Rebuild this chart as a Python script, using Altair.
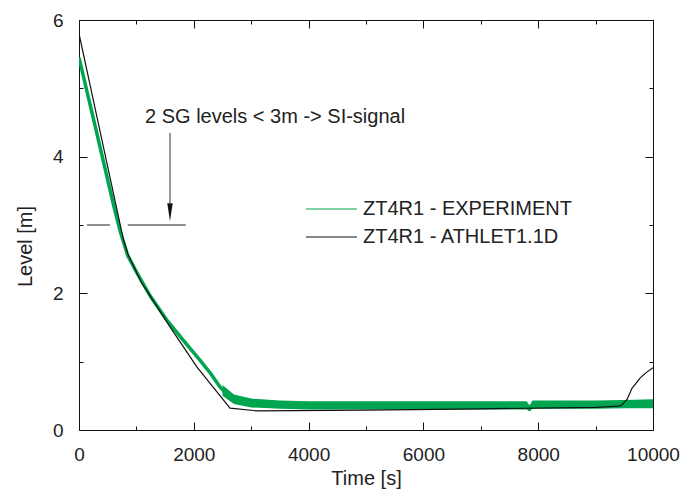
import altair as alt
import pandas as pd

# ---------------- data ----------------
exp_t = [0, 300, 600, 720, 850, 1010, 1250, 1530, 1800, 2110, 2300, 2456, 2600, 2690,
         2850, 3030, 3400, 3850, 4080, 4120, 5000, 6000, 7000, 7800, 7850, 7900, 8000,
         9000, 9500, 10000]
exp_lvl = [5.45, 4.38, 3.30, 2.90, 2.55, 2.30, 1.95, 1.61, 1.33, 1.02, 0.82, 0.63, 0.50, 0.44,
           0.41, 0.39, 0.37, 0.36, 0.34, 0.36, 0.36, 0.36, 0.36, 0.36, 0.32, 0.37, 0.37,
           0.37, 0.38, 0.38]

band_t = [2500, 2700, 3000, 3500, 4000, 5000, 6000, 7000, 7800, 7850, 7900, 8000, 9000, 9500, 10000]
band_lo = [0.50, 0.38, 0.33, 0.31, 0.30, 0.30, 0.30, 0.30, 0.30, 0.27, 0.31, 0.31, 0.31, 0.32, 0.32]
band_hi = [0.66, 0.52, 0.46, 0.43, 0.42, 0.42, 0.42, 0.42, 0.42, 0.36, 0.43, 0.43, 0.43, 0.44, 0.45]

sim_t = [0, 770, 850, 1080, 1585, 2056, 2631, 3100, 5000, 7000, 9000, 9390, 9450, 9550,
         9634, 9700, 9774, 9880, 10000]
sim_lvl = [5.80, 2.80, 2.58, 2.17, 1.51, 0.92, 0.32, 0.28, 0.29, 0.31, 0.33, 0.35, 0.36, 0.45,
           0.61, 0.68, 0.76, 0.84, 0.91]

series_names = ["ZT4R1 - EXPERIMENT", "ZT4R1 - ATHLET1.1D"]
series_colors = ["#00a550", "#111111"]

x_major = [0, 2000, 4000, 6000, 8000, 10000]
x_minor = [1000, 3000, 5000, 7000, 9000]
y_major = [0, 2, 4, 6]
y_minor = [1, 3, 5]

annot_text = ["2 SG levels < 3m -> SI-signal"]
annot_text_t = [1150]
annot_text_lvl = [4.58]
arrow_t = [1585]
arrow_top = [4.35]
arrow_base = [3.32]
arrow_head = [3.185]
level_line_t1 = [140, 850]
level_line_t2 = [540, 1860]
level_line_lvl = [3.0, 3.0]

# ---------------- layout constants ----------------
W, H = 574, 410
FONT = "Liberation Sans"

xs = alt.Scale(domain=[0, 10000], nice=False, zero=False)
ys = alt.Scale(domain=[0, 6], nice=False, zero=False)

lines_df = pd.concat([
    pd.DataFrame({"t": exp_t, "L": exp_lvl, "series": series_names[0]}),
    pd.DataFrame({"t": sim_t, "L": sim_lvl, "series": series_names[1]}),
])
band_df = pd.DataFrame({"t": band_t, "lo": band_lo, "hi": band_hi})

color = alt.Color(
    "series:N",
    scale=alt.Scale(domain=series_names, range=series_colors),
    sort=series_names,
    legend=alt.Legend(
        title=None, orient="none", legendX=226, legendY=179,
        symbolType="stroke", symbolSize=2601, symbolStrokeWidth=1.2,
        clipHeight=20, rowPadding=8, padding=0, labelOffset=5,
        labelFontSize=20, labelFont=FONT, labelColor="#222222", labelLimit=400,
    ),
)

base = alt.Chart(lines_df)
green_thick = base.transform_filter(alt.datum.series == series_names[0]).mark_line(
    strokeWidth=3.5, clip=True, color=series_colors[0]
).encode(
    x=alt.X("t:Q", scale=xs, axis=None),
    y=alt.Y("L:Q", scale=ys, axis=None),
    order="t:Q",
)
green_thin = base.transform_filter(alt.datum.series == series_names[0]).mark_line(
    strokeWidth=1.2, clip=True
).encode(
    x=alt.X("t:Q", scale=xs, axis=None),
    y=alt.Y("L:Q", scale=ys, axis=None),
    color=color,
    order="t:Q",
)
band = alt.Chart(band_df).mark_area(color=series_colors[0], opacity=1).encode(
    x=alt.X("t:Q", scale=xs, axis=None),
    y=alt.Y("lo:Q", scale=ys, axis=None),
    y2="hi:Q",
)
black = base.transform_filter(alt.datum.series == series_names[1]).mark_line(
    strokeWidth=1.2, clip=True
).encode(
    x=alt.X("t:Q", scale=xs, axis=None),
    y=alt.Y("L:Q", scale=ys, axis=None),
    color=color,
    order="t:Q",
)

# annotation
txt = alt.Chart(pd.DataFrame({"t": annot_text_t, "L": annot_text_lvl, "s": annot_text})).mark_text(
    align="left", baseline="middle", fontSize=20, font=FONT, color="#222222"
).encode(x=alt.X("t:Q", scale=xs, axis=None), y=alt.Y("L:Q", scale=ys, axis=None), text="s:N")

arrow = alt.Chart(pd.DataFrame({"t": arrow_t, "a": arrow_top, "b": arrow_base})).mark_rule(
    color="#555555", strokeWidth=1.2
).encode(x=alt.X("t:Q", scale=xs, axis=None), y=alt.Y("a:Q", scale=ys, axis=None), y2="b:Q")

head = alt.Chart(pd.DataFrame({"t": arrow_t, "L": arrow_head})).mark_point(
    shape="M-0.3,-1L0.3,-1L0,1Z", filled=True, size=324, color="#111111", opacity=1
).encode(x=alt.X("t:Q", scale=xs, axis=None), y=alt.Y("L:Q", scale=ys, axis=None))

hline = alt.Chart(pd.DataFrame({"a": level_line_t1, "b": level_line_t2, "L": level_line_lvl})).mark_rule(
    color="#222222", strokeWidth=1
).encode(x=alt.X("a:Q", scale=xs, axis=None), x2="b:Q", y=alt.Y("L:Q", scale=ys, axis=None))

# ---------------- axes (box frame with inward ticks) ----------------
dummy = pd.DataFrame({"t": [0], "L": [0]})


def axis_layer(xaxis, yaxis):
    return alt.Chart(dummy).mark_point(opacity=0).encode(
        x=alt.X("t:Q", scale=xs, axis=xaxis),
        y=alt.Y("L:Q", scale=ys, axis=yaxis),
    )


common = dict(grid=False, domainColor="#111111", tickColor="#111111", tickWidth=1, domainWidth=1)

x_main = alt.Axis(orient="bottom", values=x_major, ticks=False, tickSize=0, domain=True,
                  labels=True, labelFontSize=19, labelFont=FONT, labelColor="#222222",
                  labelPadding=15, labelFlush=False, labelOverlap=False, format="d",
                  title="Time [s]", titleFontSize=20, titleFont=FONT, titleFontWeight="normal",
                  titleColor="#222222", titleX=W / 2, titleY=48, titleBaseline="middle",
                  titleAlign="center", **common)
y_main = alt.Axis(orient="left", values=y_major, ticks=False, tickSize=0, domain=True,
                  labels=True, labelFontSize=19, labelFont=FONT, labelColor="#222222",
                  labelPadding=16, labelFlush=False, labelOverlap=False, format="d",
                  title="Level [m]", titleFontSize=20, titleFont=FONT, titleFontWeight="normal",
                  titleColor="#222222", titleX=-54, titleY=226, titleBaseline="middle",
                  titleAlign="center", titleAngle=270, **common)


def tick_axis(orient, vals, size, offset, domain=False):
    return alt.Axis(orient=orient, values=vals, ticks=True, tickSize=size, offset=offset,
                    domain=domain, labels=False, title=None, **common)


layers = [
    band, green_thick, green_thin, black, hline, arrow, head, txt,
    axis_layer(x_main, y_main),
    axis_layer(tick_axis("top", x_major, 8, -H), tick_axis("right", y_major, 8, -W)),
    axis_layer(tick_axis("top", x_minor, 4, -H), tick_axis("right", y_minor, 4, -W)),
    axis_layer(tick_axis("bottom", x_major, 8, -H, True), tick_axis("left", y_major, 8, -W, True)),
    axis_layer(tick_axis("bottom", x_minor, 4, -H), tick_axis("left", y_minor, 4, -W)),
]

chart = alt.layer(*layers).resolve_axis(x="independent", y="independent").properties(
    width=W, height=H,
    autosize=alt.AutoSizeParams(type="none"),
    padding={"left": 79, "top": 20, "right": 35, "bottom": 62},
    background="white",
).configure_view(stroke=None).configure_axis(grid=False)

chart.save("out.html", embed_options={"renderer": "svg", "actions": False})
